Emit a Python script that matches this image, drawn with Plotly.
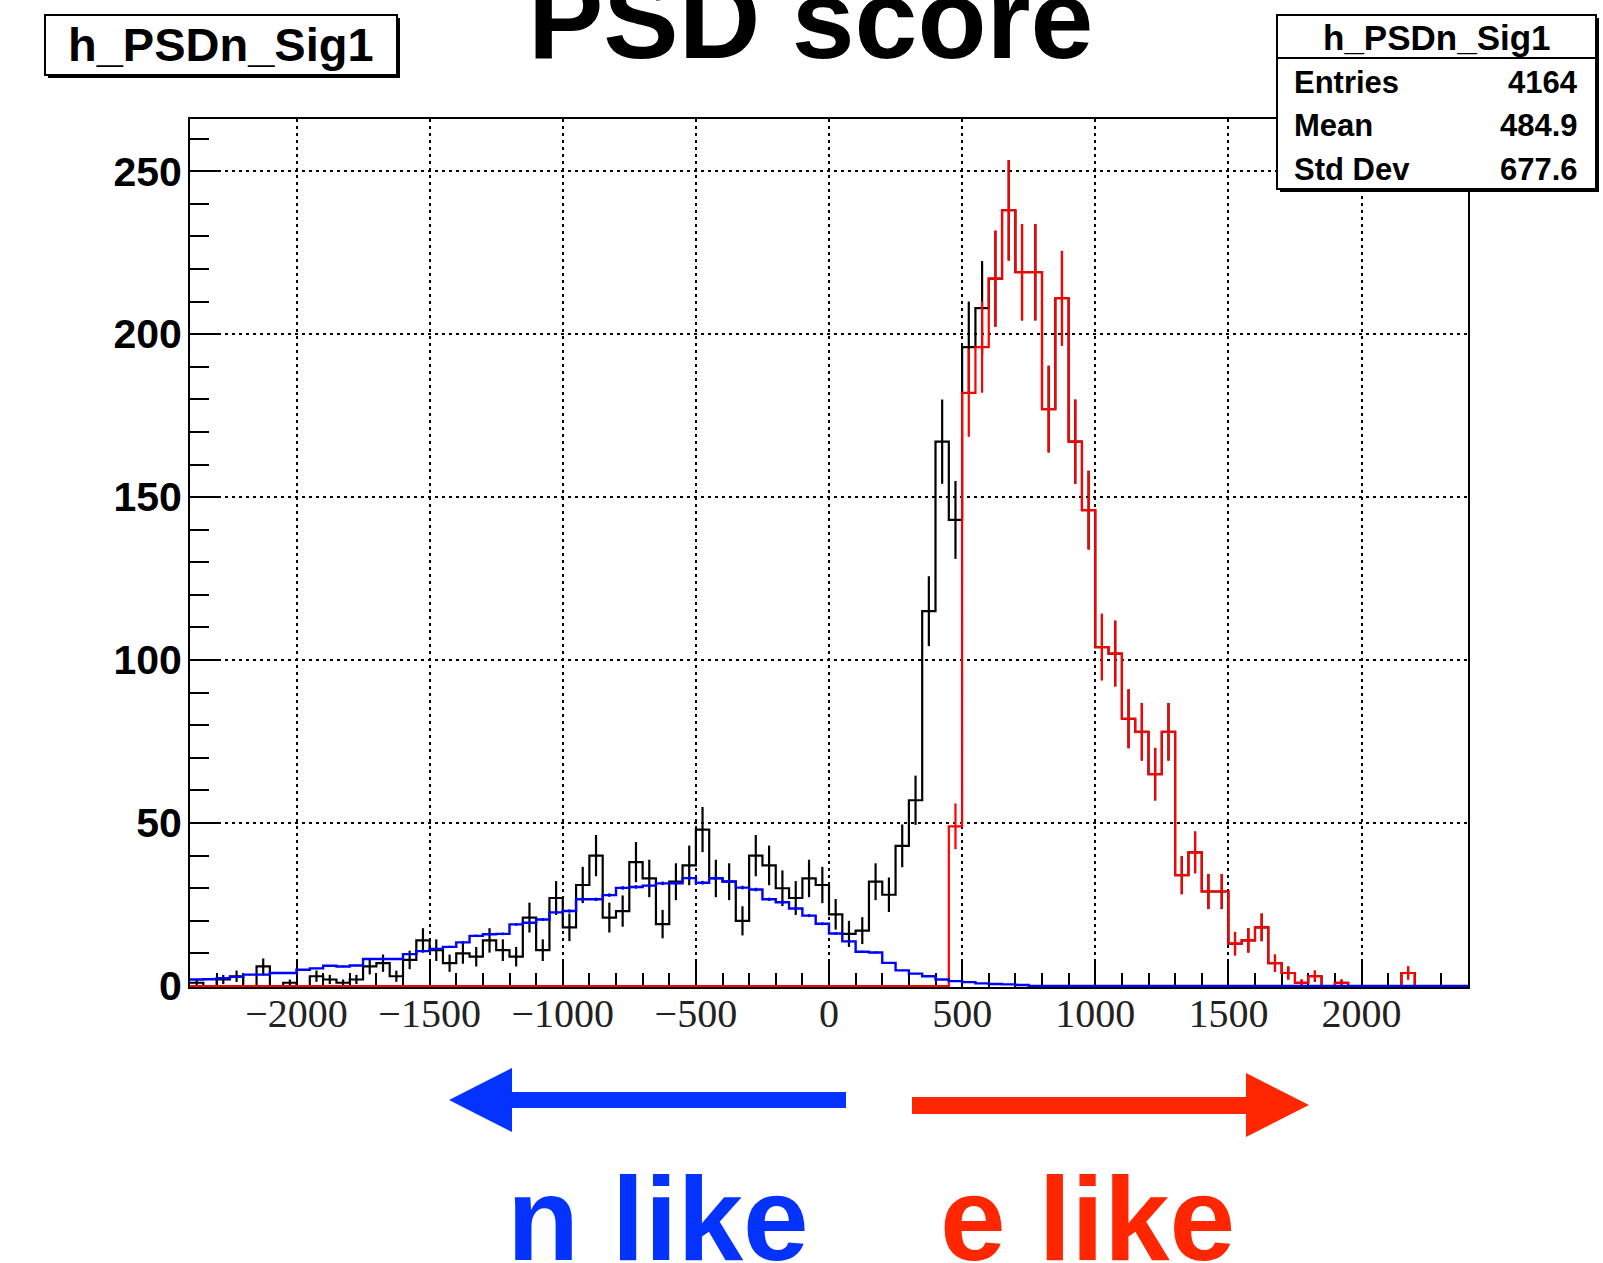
import numpy as np
import plotly.graph_objects as go

# ---------------- data ----------------
bin_lo, bin_hi, bin_w = -2400, 2400, 50

# black: all events (h_PSDn_Sig1), 96 bins of width 50 from -2400
n_all = [
    1, 0, 2, 3, 0, 6, 0, 1, 0, 3,
    2, 1, 2, 6, 7, 3, 8, 14, 11, 7,
    10, 9, 14, 11, 9, 21, 11, 27, 18, 31,
    40, 21, 23, 38, 33, 19, 32, 37, 48, 33,
    32, 20, 40, 37, 30, 27, 33, 31, 22, 16,
    17, 32, 28, 43, 57, 115, 167, 143, 196, 208,
    217, 238, 219, 219, 177, 211, 167, 146, 104, 102,
    82, 78, 65, 78, 34, 41, 29, 29, 13, 14,
    18, 7, 4, 1, 3, 0, 1, 0, 0, 0,
    0, 4, 0, 0, 0, 0,
]

# red: e-like selection
n_elike = [
    0, 0, 0, 0, 0, 0, 0, 0, 0, 0,
    0, 0, 0, 0, 0, 0, 0, 0, 0, 0,
    0, 0, 0, 0, 0, 0, 0, 0, 0, 0,
    0, 0, 0, 0, 0, 0, 0, 0, 0, 0,
    0, 0, 0, 0, 0, 0, 0, 0, 0, 0,
    0, 0, 0, 0, 0, 0, 0, 49, 182, 196,
    217, 238, 219, 219, 177, 211, 167, 146, 104, 102,
    82, 78, 65, 78, 34, 41, 29, 29, 13, 14,
    18, 7, 4, 1, 3, 0, 1, 0, 0, 0,
    0, 4, 0, 0, 0, 0,
]

# blue: n-like reference shape
n_nref = [
    2.0, 2.1, 2.4, 2.8, 3.5, 3.5, 4.0, 4.0, 5.0, 5.4,
    6.2, 6.0, 6.3, 8.3, 8.3, 8.3, 9.8, 10.7, 11.4, 12.0,
    13.4, 15.4, 15.9, 16.0, 18.9, 19.4, 20.4, 22.6, 23.0, 26.6,
    26.6, 27.9, 30.1, 30.4, 30.8, 31.5, 31.5, 33.1, 31.7, 33.1,
    32.1, 30.2, 29.6, 26.6, 25.7, 23.8, 21.6, 19.1, 16.1, 13.7,
    10.5, 10.3, 7.1, 4.8, 3.8, 3.0, 2.0, 1.5, 1.2, 0.8,
    0.6, 0.5, 0.3, 0, 0, 0, 0, 0, 0, 0,
    0, 0, 0, 0, 0, 0, 0, 0, 0, 0,
    0, 0, 0, 0, 0, 0, 0, 0, 0, 0,
    0, 0, 0, 0, 0, 0,
]

x_tick_vals = [-2000, -1500, -1000, -500, 0, 500, 1000, 1500, 2000]
x_tick_labels = ["\u22122000", "\u22121500", "\u22121000", "\u2212500", "0",
                 "500", "1000", "1500", "2000"]
y_tick_vals = [0, 50, 100, 150, 200, 250]
y_tick_labels = ["0", "50", "100", "150", "200", "250"]

hist_name = "h_PSDn_Sig1"
title_text = "PSD score"
stat_labels = ["Entries", "Mean", "Std Dev"]
stat_values = ["4164", "484.9", "677.6"]

# ---------------- styling ----------------
BLACK = "#000000"
RED = "#ff0000"
BLUE = "#0000ff"
ARROW_BLUE = "#0433ff"
ARROW_RED = "#ff2600"

W, H = 1603, 1263
ML, MR, MT, MB = 190, 135, 119, 276
PL, PR, PT, PB = ML, W - MR, MT, H - MB


def px(x):
    return (x - PL) / (PR - PL)


def py(y):
    return (PB - y) / (PB - PT)


edges = np.arange(bin_lo, bin_hi + bin_w, bin_w)
centers = edges[:-1] + bin_w / 2.0

fig = go.Figure()


def add_hist(vals, color, err_scale=None, lw=2.2):
    vals = np.asarray(vals, dtype=float)
    ys = list(vals) + [vals[-1]]
    fig.add_trace(go.Scatter(
        x=edges, y=ys, mode="lines",
        line=dict(color=color, width=lw, shape="hv"),
        hoverinfo="skip", showlegend=False))
    mask = vals > 0
    err = np.sqrt(vals[mask])
    if err_scale is not None:
        err = err * err_scale
    fig.add_trace(go.Scatter(
        x=centers[mask], y=vals[mask], mode="markers",
        marker=dict(size=0.1, color=color),
        error_y=dict(type="data", array=err, width=0, thickness=lw, color=color),
        hoverinfo="skip", showlegend=False))


add_hist(n_all, BLACK)
add_hist(n_elike, RED)
add_hist(n_nref, BLUE, err_scale=0.1, lw=2.4)

# ---------------- axes ----------------
common_axis = dict(
    showline=True, linewidth=2, linecolor=BLACK, mirror=True,
    ticks="inside", tickwidth=2, tickcolor=BLACK,
    showgrid=True, gridcolor=BLACK, gridwidth=1.6, griddash="3px,4px",
    zeroline=False, layer="below traces", fixedrange=True,
)

fig.update_xaxes(
    range=[bin_lo, bin_hi], tickmode="array",
    tickvals=x_tick_vals, ticktext=x_tick_labels,
    ticklen=25, ticklabelstandoff=-10,
    tickfont=dict(family="Liberation Serif", size=40, color="#222222"),
    minor=dict(ticks="inside", ticklen=14, tickwidth=2, tickcolor=BLACK,
               tick0=0, dtick=100, showgrid=False),
    **common_axis)

fig.update_yaxes(
    range=[-0.3, 266.0], tickmode="array",
    tickvals=y_tick_vals, ticktext=y_tick_labels,
    ticklen=31, ticklabelstandoff=-2,
    tickfont=dict(family="Liberation Sans", size=41, color=BLACK, weight="bold"),
    minor=dict(ticks="inside", ticklen=19, tickwidth=2, tickcolor=BLACK,
               tick0=0, dtick=10, showgrid=False),
    **common_axis)

# ---------------- boxes, arrows ----------------
shapes = []


def rect(x0, y0, x1, y1, fill, lw, lc=BLACK):
    shapes.append(dict(type="rect", xref="paper", yref="paper",
                       x0=px(x0), x1=px(x1), y0=py(y1), y1=py(y0),
                       fillcolor=fill, line=dict(color=lc, width=lw),
                       layer="above"))


# title pave (left) with shadow
rect(48, 18, 400, 78, BLACK, 0)
rect(45, 15, 397, 75, "white", 2)
# stats box with shadow
rect(1280, 18, 1599, 192, BLACK, 0)
rect(1277, 15, 1596, 189, "white", 2)
shapes.append(dict(type="line", xref="paper", yref="paper",
                   x0=px(1277), x1=px(1596), y0=py(58), y1=py(58),
                   line=dict(color=BLACK, width=2), layer="above"))


def poly(pts, color):
    path = "M " + " L ".join(f"{px(a):.5f},{py(b):.5f}" for a, b in pts) + " Z"
    shapes.append(dict(type="path", xref="paper", yref="paper", path=path,
                       fillcolor=color, line=dict(color=color, width=0),
                       layer="above"))


# blue arrow (pointing left)
poly([(449, 1100), (512, 1068), (512, 1092), (846, 1092), (846, 1108),
      (512, 1108), (512, 1132)], ARROW_BLUE)
# red arrow (pointing right)
poly([(1309, 1105), (1246, 1073), (1246, 1097), (912, 1097), (912, 1114),
      (1246, 1114), (1246, 1137)], ARROW_RED)

fig.update_layout(shapes=shapes)

# ---------------- texts ----------------
ann = []


def text(x, y, s, size, color=BLACK, xanchor="center", family="Liberation Sans"):
    ann.append(dict(xref="paper", yref="paper", x=px(x), y=py(y), text=s,
                    showarrow=False, xanchor=xanchor, yanchor="middle",
                    font=dict(family=family, size=size, color=color, weight="bold")))


text(810, 19, title_text, 113)
text(221, 45, hist_name, 47)
text(1436.5, 37, hist_name, 35)
row_y = [82, 125, 169]
for lab, val, yy in zip(stat_labels, stat_values, row_y):
    text(1292, yy, lab, 31, xanchor="left")
    text(1580, yy, val, 31, xanchor="right")
text(658, 1219, "n like", 118, color=ARROW_BLUE)
text(1087, 1219, "e like", 118, color=ARROW_RED)

fig.update_layout(
    annotations=ann,
    width=W, height=H, autosize=False,
    margin=dict(l=ML, r=MR, t=MT, b=MB, pad=0),
    paper_bgcolor="white", plot_bgcolor="white",
    showlegend=False,
)

fig.write_html("out.html", config={"displayModeBar": False},
               post_script="document.body.style.margin='0px';")
